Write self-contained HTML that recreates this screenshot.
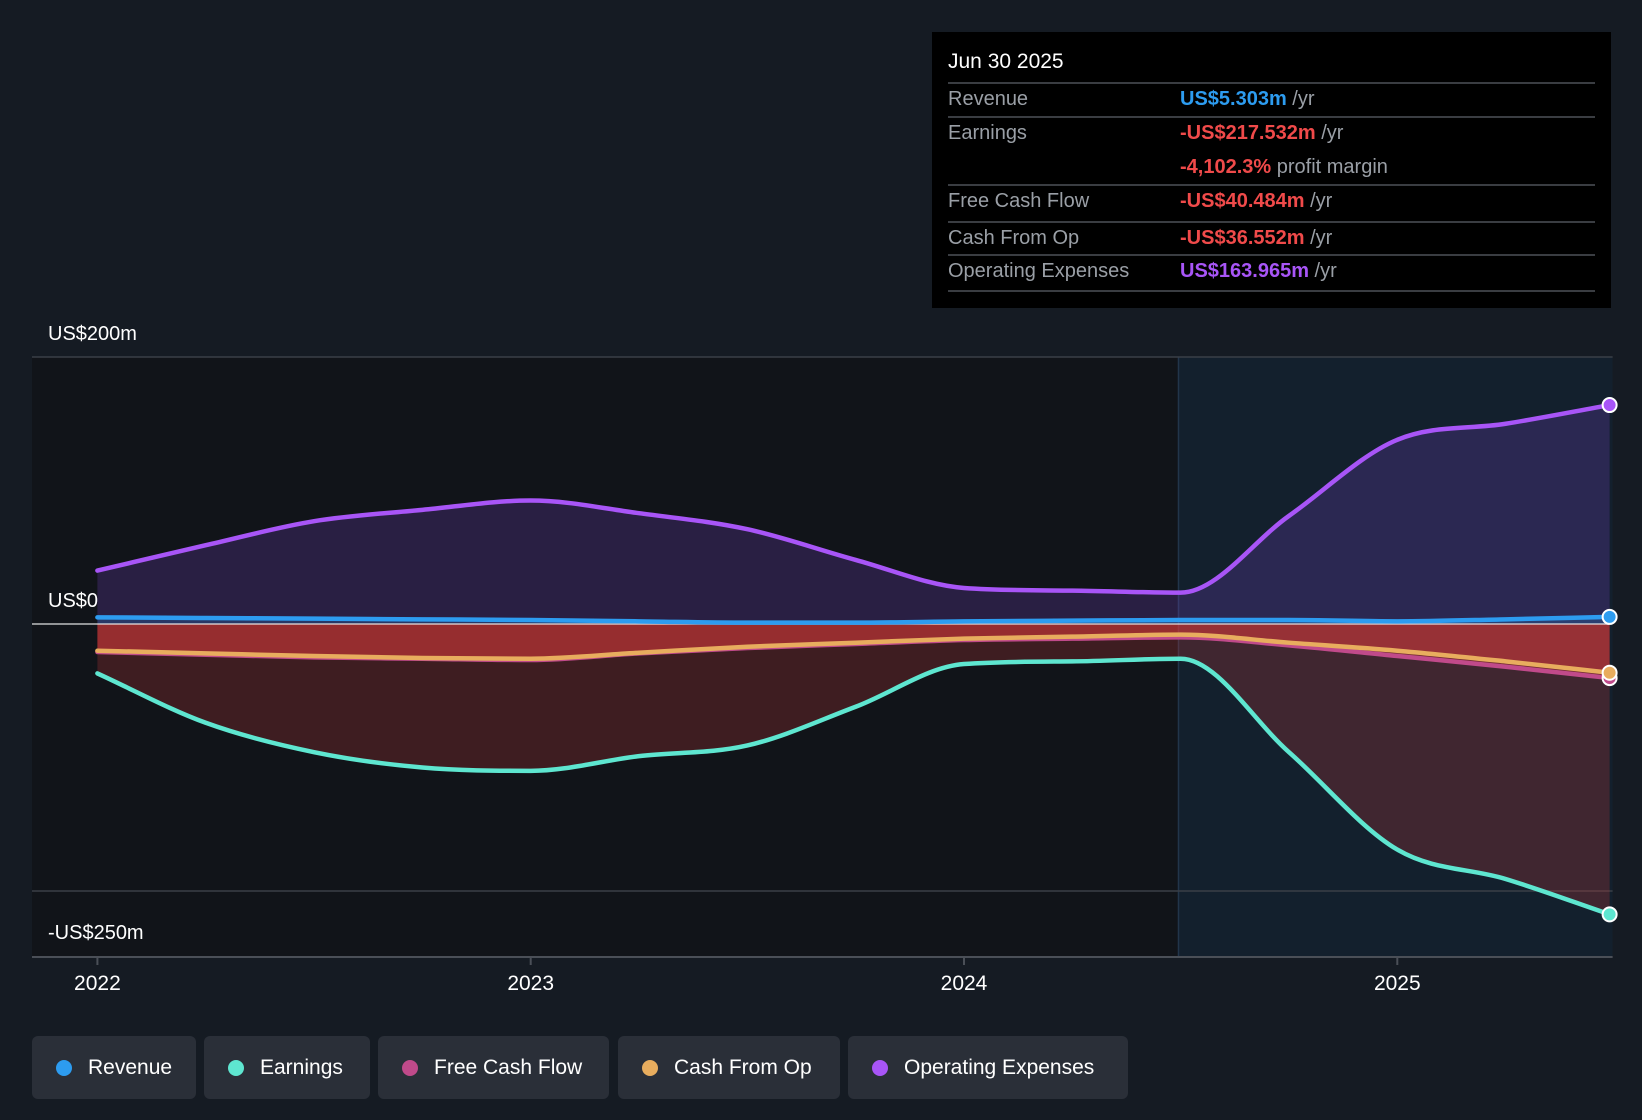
<!DOCTYPE html>
<html><head><meta charset="utf-8"><style>
body{margin:0;background:#151b23;font-family:"Liberation Sans",sans-serif;}
#wrap{position:relative;width:1642px;height:1120px;overflow:hidden;background:#151b23;}
svg{position:absolute;left:0;top:0;}
.tip{position:absolute;left:932px;top:32px;width:679px;height:276px;background:#000;}
.tip .d{position:absolute;left:16px;top:18px;color:#fff;font-size:21px;}
.row{position:absolute;left:16px;width:647px;border-top:2px solid #3a3d42;font-size:20px;}
.lab{position:absolute;left:0;color:#9a9fa6;}
.val{position:absolute;left:232px;color:#9a9fa6;white-space:nowrap;}
.val b{font-weight:bold;}
.legend{position:absolute;top:1036px;height:63px;background:#2a2f38;border-radius:6px;color:#fff;font-size:21px;line-height:63px;}
.legend i{position:absolute;left:24px;top:24px;width:16px;height:16px;border-radius:50%;}
.legend span{position:absolute;left:56px;}
</style></head><body>
<div id="wrap">
<svg id="chart" width="1642" height="1120"></svg>
<div class="tip">
<div class="d">Jun 30 2025</div>
<div class="row" style="top:50px;height:33px"><span class="lab" style="top:4px">Revenue</span><span class="val" style="top:4px"><b style="color:#2d9cf0">US$5.303m</b> /yr</span></div>
<div class="row" style="top:84px;height:66px"><span class="lab" style="top:4px">Earnings</span><span class="val" style="top:4px"><b style="color:#f04a4a">-US$217.532m</b> /yr</span><span class="val" style="top:38px"><b style="color:#f04a4a">-4,102.3%</b> profit margin</span></div>
<div class="row" style="top:152px;height:35px"><span class="lab" style="top:4px">Free Cash Flow</span><span class="val" style="top:4px"><b style="color:#f04a4a">-US$40.484m</b> /yr</span></div>
<div class="row" style="top:189px;height:31px"><span class="lab" style="top:4px">Cash From Op</span><span class="val" style="top:4px"><b style="color:#f04a4a">-US$36.552m</b> /yr</span></div>
<div class="row" style="top:222px;height:34px;border-bottom:2px solid #3a3d42"><span class="lab" style="top:4px">Operating Expenses</span><span class="val" style="top:4px"><b style="color:#a855f7">US$163.965m</b> /yr</span></div>
</div>
<div class="legend" style="left:32px;width:164px"><i style="background:#2d9cf0"></i><span>Revenue</span></div>
<div class="legend" style="left:204px;width:166px"><i style="background:#5ee6d0"></i><span>Earnings</span></div>
<div class="legend" style="left:378px;width:231px"><i style="background:#c04a8a"></i><span>Free Cash Flow</span></div>
<div class="legend" style="left:618px;width:222px"><i style="background:#e8ad5e"></i><span>Cash From Op</span></div>
<div class="legend" style="left:848px;width:280px"><i style="background:#a855f7"></i><span>Operating Expenses</span></div>
</div>
<script>
const dates=[2022.0,2022.25,2022.5,2022.75,2023.0,2023.25,2023.5,2023.75,2024.0,2024.25,2024.5,2024.75,2025.0,2025.25,2025.49];
const revenue=[5,4.5,4,3.5,3,2,1,1,2,2.5,3,3,2,3.5,5.3];
const earnings=[-37,-74,-96,-107.5,-110,-99,-91,-62,-30,-28,-26,-96,-169,-191,-217.5];
const fcf=[-21,-23,-25,-26,-27,-22,-18,-15,-12,-11,-10,-16,-24,-32,-40.5];
const cfo=[-20,-22,-24,-25.5,-26,-21.5,-17,-14,-11,-9.5,-8,-14,-20,-28,-36.5];
const opex=[40,59,77,85.5,92.5,83,71,48,27,25,23.5,81,138,150,164];
const yTicks=[200,0,-250];
const yTickLabels=["US$200m","US$0","-US$250m"];
const xTicks=[2022,2023,2024,2025];
const X=t=>97.4+(t-2022)*433.3;
const Y=v=>624-v*1.335;
const svg=document.getElementById('chart');
const NS='http://www.w3.org/2000/svg';
function mk(tag,at){const e=document.createElementNS(NS,tag);for(const k in at)e.setAttribute(k,at[k]);svg.appendChild(e);return e;}
function curve(vals){const p=dates.map((d,i)=>[X(d),Y(vals[i])]);const n=p.length;
const d=[],m=[];for(let i=0;i<n-1;i++)d.push((p[i+1][1]-p[i][1])/(p[i+1][0]-p[i][0]));
m[0]=d[0];m[n-1]=d[n-2];for(let i=1;i<n-1;i++){m[i]=(d[i-1]*d[i]<=0)?0:(d[i-1]+d[i])/2;}
for(let i=0;i<n-1;i++){if(d[i]===0){m[i]=0;m[i+1]=0;continue;}const a=m[i]/d[i],b=m[i+1]/d[i],s=a*a+b*b;if(s>9){const t=3/Math.sqrt(s);m[i]=t*a*d[i];m[i+1]=t*b*d[i];}}
let s='M'+p[0][0]+','+p[0][1];
for(let i=0;i<n-1;i++){const h=(p[i+1][0]-p[i][0])/3;
s+=` C${p[i][0]+h},${p[i][1]+m[i]*h} ${p[i+1][0]-h},${p[i+1][1]-m[i+1]*h} ${p[i+1][0]},${p[i+1][1]}`;}return s;}
const xDiv=X(2024.495), xEnd=X(dates[dates.length-1]);
let r=mk('rect',{x:32,y:357,width:xDiv-32,height:599,fill:'#111419'});

r=mk('rect',{x:xDiv,y:357,width:xEnd-xDiv+3,height:599,fill:'#13202d'});

let l=mk('line',{x1:xDiv,y1:357,x2:xDiv,y2:956,stroke:'#22354a','stroke-width':1.5});

[200,-200].forEach(v=>{const g=mk('line',{x1:32,x2:xEnd+3,y1:Y(v),y2:Y(v),stroke:'#3a3f47','stroke-width':1.5});
});
const base=`L${xEnd},${Y(0)} L${X(2022)},${Y(0)} Z`;
const series=[
 ['opex',opex,'#a855f7','rgba(120,65,200,0.24)'],
 ['earnings',earnings,'#5ee6d0','rgba(200,55,60,0.25)'],
 ['fcf',fcf,'#c04a8a','rgba(220,60,60,0.35)'],
 ['cfo',cfo,'#e8ad5e','rgba(230,60,60,0.3)'],
 ['revenue',revenue,'#2d9cf0','rgba(45,156,240,0.2)']];
series.forEach(s=>{const a=mk('path',{d:curve(s[1])+base,fill:s[3]});
});
let z=mk('line',{x1:32,x2:xEnd,y1:Y(0),y2:Y(0),stroke:'#e8e8e8','stroke-width':1.5,'stroke-opacity':0.8});

series.forEach(s=>{const p=mk('path',{d:curve(s[1]),fill:'none',stroke:s[2],'stroke-width':4.5,'stroke-linecap':'round'});

const n=s[1].length-1;const c=mk('circle',{cx:X(dates[n]),cy:Y(s[1][n]),r:7,fill:s[2],stroke:'#fff','stroke-width':2});
});
let ax=mk('line',{x1:32,x2:xEnd+3,y1:957,y2:957,stroke:'#4a4f57','stroke-width':2});

xTicks.forEach(t=>{const k=mk('line',{x1:X(t),x2:X(t),y1:957,y2:965,stroke:'#4a4f57','stroke-width':2});

const tx=mk('text',{x:X(t),y:990,fill:'#fff','font-size':21,'text-anchor':'middle','font-family':'Liberation Sans'});
tx.textContent=String(t);});
const yl=[340,607,939];
yTicks.forEach((v,i)=>{const tx=mk('text',{x:48,y:yl[i],fill:'#fff','font-size':20,'font-family':'Liberation Sans'});
tx.textContent=yTickLabels[i];});
</script>
</body></html>
